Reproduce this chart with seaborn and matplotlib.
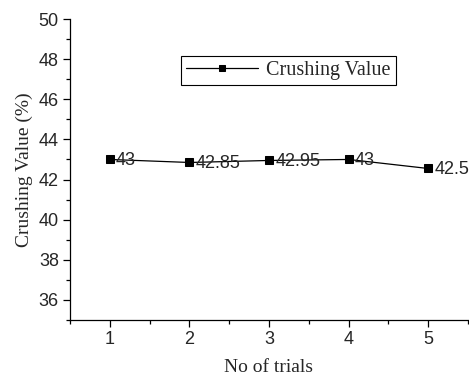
import matplotlib
matplotlib.use("Agg")
import matplotlib.pyplot as plt
import seaborn as sns
import pandas as pd
from matplotlib.ticker import MultipleLocator

trials = [1, 2, 3, 4, 5]
crushing = [43.0, 42.85, 42.95, 43.0, 42.55]
labels = ["43", "42.85", "42.95", "43", "42.55"]

df = pd.DataFrame({"trial": trials, "value": crushing})

sns.set_style("ticks")
plt.rcParams["font.family"] = ["Liberation Sans", "DejaVu Sans"]

fig = plt.figure(figsize=(4.69, 3.79), dpi=100)
ax = fig.add_axes([70/469, 59/379, 398/469, 301/379])

sns.lineplot(data=df, x="trial", y="value", ax=ax, color="black", linewidth=0.9,
             marker="s", markersize=6, markeredgecolor="black",
             markerfacecolor="black", label="Crushing Value")

for x, y, t in zip(trials, crushing, labels):
    ax.annotate(t, (x, y), xytext=(4.5, -0.5), textcoords="offset points",
                ha="left", va="center", fontsize=13, clip_on=False,
                annotation_clip=False)

ax.set_xlim(0.5, 5.5)
ax.set_ylim(35, 50)
ax.set_xticks([1, 2, 3, 4, 5])
ax.xaxis.set_minor_locator(MultipleLocator(0.5))
ax.set_yticks([36, 38, 40, 42, 44, 46, 48, 50])
ax.yaxis.set_minor_locator(MultipleLocator(1))
ax.tick_params(axis="both", which="major", direction="out", length=5, width=0.9,
               labelsize=13, color="black", pad=3)
ax.tick_params(axis="both", which="minor", direction="out", length=3, width=0.9,
               color="black")
for side in ["top", "right"]:
    ax.spines[side].set_visible(False)
for side in ["left", "bottom"]:
    ax.spines[side].set_color("black")
    ax.spines[side].set_linewidth(0.9)

ax.set_xlabel("No of trials", fontfamily="Liberation Serif", fontsize=14, labelpad=8)
ax.set_ylabel("Crushing Value (%)", fontfamily="Liberation Serif", fontsize=14, labelpad=4)

leg = ax.legend(loc="upper left", bbox_to_anchor=(0.2783, 0.877), frameon=True,
                fancybox=False, edgecolor="black", framealpha=1,
                prop={"family": "Liberation Serif", "size": 14.5},
                handlelength=3.6, borderpad=0.25, handletextpad=0.4,
                borderaxespad=0, markerscale=0.7)
leg.get_frame().set_linewidth(0.8)

fig.savefig("out.png", dpi=100)
